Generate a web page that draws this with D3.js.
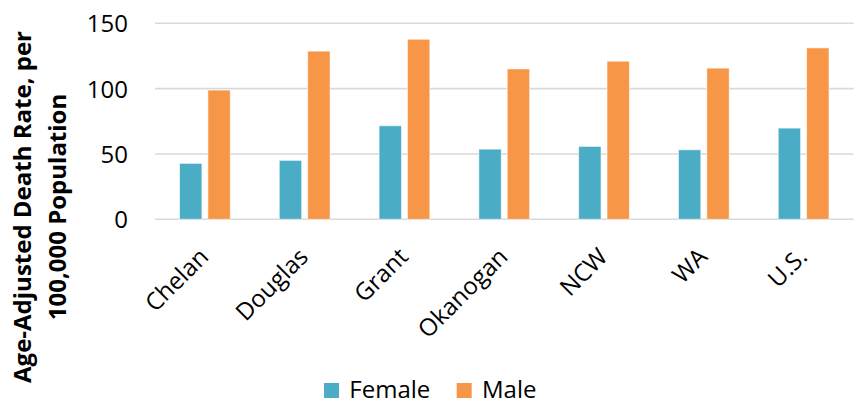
<!DOCTYPE html>
<html><head><meta charset="utf-8">
<script src="https://cdn.jsdelivr.net/npm/d3@7"></script>
<style>
html,body{margin:0;padding:0;background:#fff;}
svg{display:block;font-family:"Open Sans",sans-serif;}
</style></head>
<body>
<svg id="chart" width="861" height="404"></svg>
<script>
const categories = ["Chelan","Douglas","Grant","Okanogan","NCW","WA","U.S."];
const series = ["Female","Male"];
const female = [42.8, 45.1, 71.6, 53.7, 55.8, 53.2, 69.8];
const male = [98.9, 128.7, 137.8, 115.1, 121.0, 115.7, 131.2];
const yTicks = [0, 50, 100, 150];
const colors = {Female:"#4BACC6", Male:"#F79646"};
const yTitle = ["Age-Adjusted Death Rate, per", "100,000 Population"];

(function(){
const values = {Female: female, Male: male};
const svg = d3.select("#chart");
const pLeft = 155, pRight = 853.5, pTop = 23.3, pBottom = 219.3;

const x0 = d3.scaleBand().domain(categories).range([pLeft, pRight]).padding(0);
const groupW = 50.8;
const x1 = d3.scaleBand().domain(series).range([0, groupW]).paddingInner(0.21).paddingOuter(0);
const y = d3.scaleLinear().domain([0,150]).range([pBottom, pTop]);

// gridlines
svg.append("g").selectAll("line").data(yTicks).join("line")
  .attr("x1", pLeft).attr("x2", pRight)
  .attr("y1", d=>y(d)).attr("y2", d=>y(d))
  .attr("stroke", "#D9D9D9").attr("stroke-width", 1.6);

// y axis labels
const yAxis = d3.axisLeft(y).tickValues(yTicks).tickSize(0).tickPadding(0);
const ya = svg.append("g").attr("transform", `translate(128,0)`).call(yAxis);
ya.select(".domain").remove();
ya.selectAll("text").attr("font-size", 24).attr("fill", "#000").attr("font-family", "'Open Sans',sans-serif").attr("dy", "0.35em");

// bars
const rows = categories.map((c,i)=>({cat:c, vals: series.map(s=>({s, v: values[s][i]}))}));
const off = (x0.bandwidth() - groupW)/2;
svg.append("g").selectAll("g").data(rows).join("g")
  .attr("transform", d=>`translate(${x0(d.cat)+off},0)`)
  .selectAll("rect").data(d=>d.vals).join("rect")
  .attr("x", d=>x1(d.s)).attr("width", x1.bandwidth())
  .attr("y", d=>y(d.v)).attr("height", d=>y(0)-y(d.v))
  .attr("fill", d=>colors[d.s])
  .attr("stroke", "rgba(255,255,255,0.6)").attr("stroke-width", 1);

// x labels
const xAxis = d3.axisBottom(x0).tickSize(0).tickPadding(0);
const xa = svg.append("g").attr("transform", `translate(0,${pBottom})`).call(xAxis);
xa.select(".domain").remove();
xa.selectAll("text")
  .attr("font-size", 24).attr("fill", "#000").attr("font-family", "'Open Sans',sans-serif")
  .attr("text-anchor", "end").attr("dy", 0)
  .attr("transform", "translate(5,39) rotate(-45)");

// y title
const t = svg.append("text").attr("transform", "translate(0,207) rotate(-90)")
  .attr("text-anchor", "middle").attr("font-weight", "bold").attr("font-size", 24).attr("fill","#000");
t.selectAll("tspan").data(yTitle).join("tspan")
  .attr("x", 0).attr("y", (d,i)=> 31 + i*35).text(d=>d);

// legend
const legX = [324, 456.7];
const lg = svg.append("g").selectAll("g").data(series).join("g")
  .attr("transform", (d,i)=>`translate(${legX[i]},0)`);
lg.append("rect").attr("x",0).attr("y",383).attr("width",15).attr("height",15).attr("fill", d=>colors[d]);
lg.append("text").attr("x",25.3).attr("y",397.5).attr("font-size",24).attr("fill","#000").text(d=>d);
})();
</script>
</body></html>
